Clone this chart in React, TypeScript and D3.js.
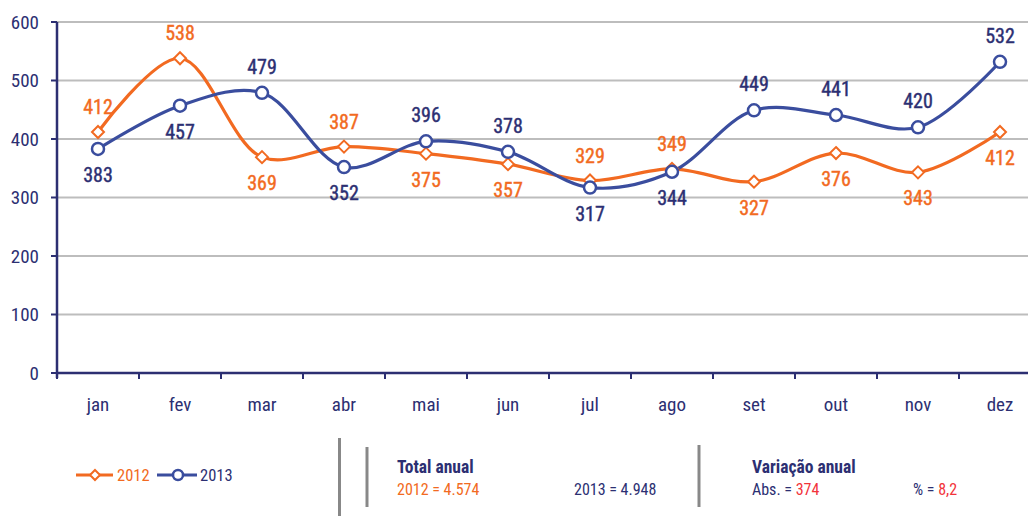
import React from "react";
import * as d3 from "d3";

const months = ["jan", "fev", "mar", "abr", "mai", "jun", "jul", "ago", "set", "out", "nov", "dez"];
const values2012 = [412, 538, 369, 387, 375, 357, 329, 349, 327, 376, 343, 412];
const values2013 = [383, 457, 479, 352, 396, 378, 317, 344, 449, 441, 420, 532];
// label placement: 1 = above, -1 = below
const pos2012 = [1, 1, -1, 1, -1, -1, 1, 1, -1, -1, -1, -1];
const pos2013 = [-1, -1, 1, -1, 1, 1, -1, -1, 1, 1, 1, 1];
const yTicks = [0, 100, 200, 300, 400, 500, 600];

const ORANGE = "#F26A21";
const BLUE = "#3A4D9E";
const NAVY = "#2C2F72";
const RED = "#F2333A";
const FONT = "'Liberation Sans Narrow', 'Arial Narrow', 'Roboto Condensed', 'Liberation Sans', sans-serif";

export default function App() {
  const W = 1028, H = 516;
  const x = d3.scaleBand<string>().domain(months).range([57, 57 + 12 * 82]);
  const y = d3.scaleLinear().domain([0, 600]).range([373, 22]);
  const cx = (m: string) => (x(m) as number) + x.bandwidth() / 2;
  const line = d3
    .line<number>()
    .x((_, i) => cx(months[i]))
    .y((d) => y(d))
    .curve(d3.curveCatmullRom.alpha(0.5));

  const diamond = (px: number, py: number, r: number) =>
    `M${px},${py - r}L${px + r},${py}L${px},${py + r}L${px - r},${py}Z`;

  return (
    <svg width={W} height={H} style={{ position: "absolute", left: 0, top: 0 }} fontFamily={FONT}>
      {/* gridlines */}
      {yTicks.filter((t) => t > 0).map((t) => (
        <line key={t} x1={57} x2={W} y1={y(t)} y2={y(t)} stroke="#BDBDBD" strokeWidth={2} />
      ))}
      {/* y axis */}
      <line x1={57} x2={57} y1={y(600)} y2={y(0) + 5} stroke={NAVY} strokeWidth={2.5} />
      {yTicks.map((t) => (
        <g key={t}>
          <line x1={51} x2={57} y1={y(t)} y2={y(t)} stroke={NAVY} strokeWidth={2} />
          <text x={39} y={y(t)} dy="0.35em" textAnchor="end" fontSize={19} fill={NAVY}>
            {t}
          </text>
        </g>
      ))}
      {/* x axis */}
      <line x1={57} x2={W} y1={y(0)} y2={y(0)} stroke={NAVY} strokeWidth={2.5} />
      {months.map((m) => (
        <g key={m}>
          <line x1={x(m) as number} x2={x(m) as number} y1={y(0)} y2={y(0) + 6} stroke={NAVY} strokeWidth={2} />
          <text x={cx(m)} y={404} dy="0.35em" textAnchor="middle" fontSize={19} fill={NAVY}>
            {m}
          </text>
        </g>
      ))}
      {/* lines */}
      <path d={line(values2012) || ""} fill="none" stroke={ORANGE} strokeWidth={3.2} />
      <path d={line(values2013) || ""} fill="none" stroke={BLUE} strokeWidth={3.2} />
      {values2012.map((v, i) => (
        <path key={"d" + i} d={diamond(cx(months[i]), y(v), 6)} fill="#fff" stroke={ORANGE} strokeWidth={2} />
      ))}
      {values2013.map((v, i) => (
        <circle key={"c" + i} cx={cx(months[i])} cy={y(v)} r={6} fill="#fff" stroke={BLUE} strokeWidth={2.5} />
      ))}
      {/* labels */}
      {values2012.map((v, i) => (
        <text key={"l12" + i} x={cx(months[i])} y={y(v) + (pos2012[i] > 0 ? -25 : 26)} dy="0.35em" textAnchor="middle" fontSize={20} fill={ORANGE} stroke={ORANGE} strokeWidth={0.4}>
          {v}
        </text>
      ))}
      {values2013.map((v, i) => (
        <text key={"l13" + i} x={cx(months[i])} y={y(v) + (pos2013[i] > 0 ? -26 : 26)} dy="0.35em" textAnchor="middle" fontSize={20} fill={NAVY} stroke={NAVY} strokeWidth={0.4}>
          {v}
        </text>
      ))}
      {/* legend */}
      <line x1={76} x2={113} y1={475} y2={475} stroke={ORANGE} strokeWidth={3} />
      <path d={diamond(95, 475, 5)} fill="#fff" stroke={ORANGE} strokeWidth={2} />
      <text x={117} y={475} dy="0.35em" fontSize={16.5} fill={ORANGE}>2012</text>
      <line x1={157} x2={197} y1={475} y2={475} stroke={BLUE} strokeWidth={3} />
      <circle cx={178} cy={475} r={5} fill="#fff" stroke={BLUE} strokeWidth={2.5} />
      <text x={200} y={475} dy="0.35em" fontSize={16.5} fill={NAVY}>2013</text>
      {/* separators */}
      <line x1={339.5} x2={339.5} y1={438} y2={516} stroke="#888" strokeWidth={3} />
      <line x1={367} x2={367} y1={447} y2={507} stroke="#888" strokeWidth={3} />
      <line x1={699} x2={699} y1={445} y2={507} stroke="#888" strokeWidth={3} />
      {/* totals */}
      <text x={397} y={473} fontSize={17.5} fontWeight="bold" fill={NAVY}>Total anual</text>
      <text x={397} y={495} fontSize={16} fill={ORANGE}>2012 = 4.574</text>
      <text x={574} y={495} fontSize={16} fill={NAVY}>2013 = 4.948</text>
      <text x={752} y={473} fontSize={17.5} fontWeight="bold" fill={NAVY}>Variação anual</text>
      <text x={752} y={495} fontSize={16} fill={NAVY}>
        Abs. = <tspan fill={RED}>374</tspan>
      </text>
      <text x={913} y={495} fontSize={16} fill={NAVY}>
        % = <tspan fill={RED}>8,2</tspan>
      </text>
    </svg>
  );
}
